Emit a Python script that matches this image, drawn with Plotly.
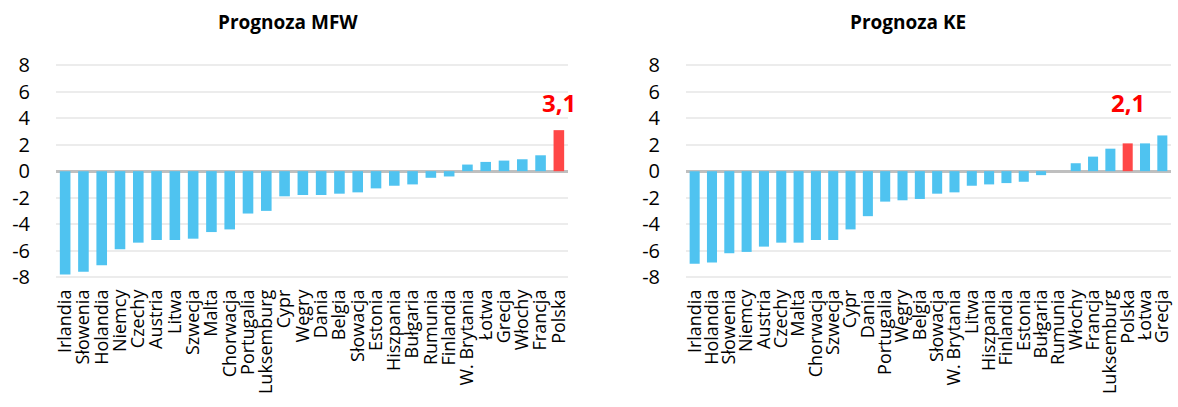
import plotly.graph_objects as go

mfw_countries = ["Irlandia", "Słowenia", "Holandia", "Niemcy", "Czechy", "Austria", "Litwa",
                 "Szwecja", "Malta", "Chorwacja", "Portugalia", "Luksemburg", "Cypr", "Węgry",
                 "Dania", "Belgia", "Słowacja", "Estonia", "Hiszpania", "Bułgaria", "Rumunia",
                 "Finlandia", "W. Brytania", "Łotwa", "Grecja", "Włochy", "Francja", "Polska"]
mfw_values = [-7.8, -7.6, -7.1, -5.9, -5.4, -5.2, -5.2, -5.1, -4.6, -4.4, -3.2, -3.0, -1.9, -1.8,
              -1.8, -1.7, -1.6, -1.3, -1.1, -1.0, -0.5, -0.4, 0.5, 0.7, 0.8, 0.9, 1.2, 3.1]

ke_countries = ["Irlandia", "Holandia", "Słowenia", "Niemcy", "Austria", "Czechy", "Malta",
                "Chorwacja", "Szwecja", "Cypr", "Dania", "Portugalia", "Węgry", "Belgia",
                "Słowacja", "W. Brytania", "Litwa", "Hiszpania", "Finlandia", "Estonia",
                "Bułgaria", "Rumunia", "Włochy", "Francja", "Luksemburg", "Polska", "Łotwa", "Grecja"]
ke_values = [-7.0, -6.9, -6.2, -6.1, -5.7, -5.4, -5.4, -5.2, -5.2, -4.4, -3.4, -2.3, -2.2, -2.1,
             -1.7, -1.6, -1.1, -1.0, -0.9, -0.8, -0.3, 0.0, 0.6, 1.1, 1.7, 2.1, 2.1, 2.7]

y_ticks = [-8, -6, -4, -2, 0, 2, 4, 6, 8]
titles = ["Prognoza MFW", "Prognoza KE"]
highlight = "Polska"

BLUE = "#4fc3f0"
RED = "#ff4747"

W, H = 1178, 407
top_m, bot_m = 60, 122
plot_h = H - top_m - bot_m

fig = go.Figure()

def colors(cats):
    return [RED if c == highlight else BLUE for c in cats]

fig.add_trace(go.Bar(x=mfw_countries, y=mfw_values, marker_color=colors(mfw_countries),
                     marker_line_width=0, xaxis="x", yaxis="y", showlegend=False))
fig.add_trace(go.Bar(x=ke_countries, y=ke_values, marker_color=colors(ke_countries),
                     marker_line_width=0, xaxis="x2", yaxis="y2", showlegend=False))

dom1 = [56 / W, 568 / W]
dom2 = [686 / W, 1171 / W]

def xaxis(domain, anchor, cats):
    return dict(domain=domain, anchor=anchor, type="category", tickangle=-90,
                tickmode="array", tickvals=cats, ticktext=cats,
                range=[-0.5, len(cats) - 0.5], automargin=False,
                showgrid=False, zeroline=False, showline=False, ticks="",
                tickfont=dict(family="Open Sans", size=18, color="black"))

def yaxis(anchor):
    return dict(anchor=anchor, range=[-8.6, 8.4], tickmode="array", tickvals=y_ticks,
                ticktext=[str(v) for v in y_ticks], automargin=False,
                showgrid=True, gridcolor="#ececec", gridwidth=1.5,
                zeroline=True, zerolinecolor="#bfbfbf", zerolinewidth=3,
                showline=False, ticks="", ticklabelstandoff=25,
                tickfont=dict(family="Open Sans", size=20, color="black"))

annotations = []
for i_ch, (xref, yref, cats, vals, title_px) in enumerate(
        [("x", "y", mfw_countries, mfw_values, 288), ("x2", "y2", ke_countries, ke_values, 908)]):
    i = cats.index(highlight)
    v = vals[i]
    annotations.append(dict(x=cats[i], y=5.2, xref=xref, yref=yref,
                            text=f"{v:.1f}".replace(".", ","), showarrow=False,
                            yanchor="middle",
                            font=dict(family="Open Sans", size=24, color="#ff0000", weight="bold")))
    annotations.append(dict(x=title_px / W, y=(H - bot_m - 22) / plot_h, xref="paper", yref="paper",
                            yanchor="middle", xanchor="center", showarrow=False,
                            text=titles[i_ch],
                            font=dict(family="Open Sans", size=19, color="black", weight="bold")))

fig.update_layout(
    width=W, height=H,
    margin=dict(l=0, r=0, t=top_m, b=bot_m),
    paper_bgcolor="white", plot_bgcolor="white",
    bargap=0.42,
    xaxis=xaxis(dom1, "y", mfw_countries),
    yaxis=yaxis("x"),
    xaxis2=xaxis(dom2, "y2", ke_countries),
    yaxis2=yaxis("x2"),
    annotations=annotations,
)

fig.write_html("out.html", config={"displayModeBar": False},
               post_script="document.body.style.margin='0px';document.body.style.overflow='hidden';")
